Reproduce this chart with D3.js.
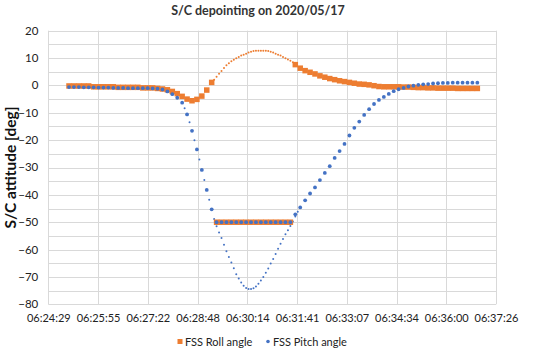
<!DOCTYPE html>
<html><head><meta charset="utf-8">
<script src="https://cdn.jsdelivr.net/npm/d3@7"></script>
<style>body{margin:0;background:#fff}svg{display:block}</style>
</head><body><svg id="c" width="546" height="356"></svg>
<script>
// ---- data ----
const titleText = "S/C depointing on 2020/05/17";
const yTitle = "S/C attitude [deg]";
const seriesNames = ["FSS Roll angle", "FSS Pitch angle"];
const xTickLabels = ["06:24:29","06:25:55","06:27:22","06:28:48","06:30:14","06:31:41","06:33:07","06:34:34","06:36:00","06:37:26"];
const xTickSeconds = [23068.8,23155.2,23241.6,23328.0,23414.4,23500.8,23587.2,23673.6,23760.0,23846.4];
const yTickValues = [20,10,0,-10,-20,-30,-40,-50,-60,-70,-80];
const yGridValues = [20,15,10,5,0,-5,-10,-15,-20,-25,-30,-35,-40,-45,-50,-55,-60,-65,-70,-75,-80];
// measured samples (regular sampling, seconds of day)
const sampleStart = 23104.75, sampleStep = 8.545;
const rollValues = [-0.2,-0.2,-0.2,-0.2,-0.2,-0.5,-0.5,-0.5,-0.5,-0.5,-0.7,-0.7,-0.7,-0.7,-0.7,-0.9,-0.9,-0.9,-1.1,-1.3,
  -1.6,-2.2,-3.0,-4.0,-5.0,-5.6,-5.1,-3.9,-1.7,1.1,
  -50,-50,-50,-50,-50,-50,-50,-50,-50,-50,-50,-50,-50,-50,-50,-50,
  7.6,6.3,5.4,4.8,4.2,3.5,3.0,2.5,2.1,1.7,1.4,1.1,0.8,0.5,0.4,0.2,-0.1,-0.4,-0.5,-0.5,
  -0.5,-0.5,-0.6,-0.6,-0.7,-0.8,-0.8,-0.9,-0.9,-1.0,-1.0,-1.0,-1.0,-1.1,-1.1,-1.1,-1.1,-1.1];
const pitchValues = [-0.6,-0.6,-0.6,-0.7,-0.7,-0.7,-0.8,-0.8,-0.8,-0.9,-0.9,-0.9,-1.0,-1.0,-1.0,-1.0,-1.0,-1.1,-1.2,-1.5,
  -2.2,-3.2,-4.5,-6.3,-10.6,-16.6,-23.4,-30.9,-38.2,-45.3,
  -50,-50,-50,-50,-50,-50,-50,-50,-50,-50,-50,-50,-50,-50,-50,-50,
  -47.1,-44.6,-42.0,-39.5,-37.3,-34.6,-32.0,-29.5,-26.5,-24.0,-21.4,-18.3,-15.5,-13.2,-10.8,-8.7,-6.8,-5.3,-4.2,-3.1,
  -2.1,-1.4,-0.9,-0.4,-0.1,0.2,0.4,0.5,0.7,0.8,0.9,0.9,1.0,1.0,1.0,1.0,1.0,1.0];
// modelled attitude (fine sampling)
const modelStep = 4.2725;
const pitchModelStart = 23301.29;
const pitchModel = [-6.3,-8.3,-10.6,-13.5,-16.6,-20.0,-23.4,-27.1,-30.9,-34.6,-38.2,-41.8,-45.3,-48.8,-51.5,-53.8,-55.8,-58.2,-60.6,-62.7,
  -64.7,-66.8,-69.0,-70.6,-72.0,-73.2,-74.0,-74.4,-74.4,-74.1,-73.5,-72.5,-71.3,-70.0,-68.5,-66.9,-65.1,-63.4,-61.6,-59.7,
  -57.9,-56.1,-54.4,-52.9,-51.4,-49.7,-47.9,-46.2,-44.6];
const rollModelStart = 23352.56;
const rollModel = [1.1,2.1,3.2,4.3,5.3,6.4,7.4,8.1,8.8,9.4,9.9,10.4,10.9,11.2,11.6,12.0,12.3,12.6,12.7,12.7,
  12.7,12.7,12.7,12.6,12.3,12.0,11.6,11.2,10.9,10.4,9.9,9.5,9.0,8.5,7.9];

// ---- chart ----
const orange = "#ED7D31", blue = "#4472C4", gridC = "#D9D9D9", textC = "#222";
const svg = d3.select("#c");
const pL = 48.3, pR = 496, pT = 30.7, pB = 304.3;
const x = d3.scaleLinear().domain([xTickSeconds[0], xTickSeconds[xTickSeconds.length-1]]).range([pL, pR]);
const y = d3.scaleLinear().domain([20, -80]).range([pT, pB]);
const font = "Lato, 'Open Sans', sans-serif";

const g = svg.append("g");
g.selectAll("line.h").data(yGridValues).join("line").attr("class","h")
  .attr("x1", pL).attr("x2", pR).attr("y1", d=>Math.round(y(d))+0.5).attr("y2", d=>Math.round(y(d))+0.5)
  .attr("stroke", gridC).attr("stroke-width", 1);
g.selectAll("line.v").data(xTickSeconds).join("line").attr("class","v")
  .attr("y1", pT).attr("y2", pB).attr("x1", d=>Math.round(x(d))+0.5).attr("x2", d=>Math.round(x(d))+0.5)
  .attr("stroke", gridC).attr("stroke-width", 1);

const yAxis = d3.axisLeft(y).tickValues(yTickValues).tickSize(0).tickPadding(10);
const ya = svg.append("g").attr("transform", `translate(${pL},0)`).call(yAxis);
ya.select(".domain").remove();
ya.selectAll("text").attr("font-family", font).attr("font-size", 11.5).attr("fill", textC).attr("dy", "0.3em");

const xAxis = d3.axisBottom(x).tickValues(xTickSeconds).tickSize(0).tickPadding(10)
  .tickFormat((d,i)=>xTickLabels[i]);
const xa = svg.append("g").attr("transform", `translate(0,${pB})`).call(xAxis);
xa.select(".domain").remove();
xa.selectAll("text").attr("font-family", font).attr("font-size", 11).attr("fill", textC);

const pm = pitchModel.map((v,i)=>({t: pitchModelStart + i*modelStep, v}));
const rm = rollModel.map((v,i)=>({t: rollModelStart + i*modelStep, v}));
svg.append("g").selectAll("circle").data(rm).join("circle")
  .attr("cx", d=>x(d.t)).attr("cy", d=>y(d.v)).attr("r", 1).attr("fill", orange);
svg.append("g").selectAll("circle").data(pm).join("circle")
  .attr("cx", d=>x(d.t)).attr("cy", d=>y(d.v)).attr("r", 1).attr("fill", blue);

const rs = rollValues.map((v,i)=>({t: sampleStart + i*sampleStep, v}));
const ps = pitchValues.map((v,i)=>({t: sampleStart + i*sampleStep, v}));
const sq = 5.5;
svg.append("g").selectAll("rect").data(rs).join("rect")
  .attr("x", d=>x(d.t)-sq/2).attr("y", d=>y(d.v)-sq/2).attr("width", sq).attr("height", sq).attr("fill", orange);
svg.append("g").selectAll("circle").data(ps).join("circle")
  .attr("cx", d=>x(d.t)).attr("cy", d=>y(d.v)).attr("r", 1.9).attr("fill", blue);

svg.append("text").attr("x", 258).attr("y", 15).attr("text-anchor","middle")
  .attr("font-family", font).attr("font-weight","bold").attr("font-size", 12.5).attr("fill", "#333")
  .text(titleText);
svg.append("text").attr("transform", `translate(16,${(pT+pB)/2}) rotate(-90)`).attr("text-anchor","middle")
  .attr("font-family", font).attr("font-weight","bold").attr("font-size", 15.5).attr("fill", "#111")
  .text(yTitle);

const lg = svg.append("g");
lg.append("rect").attr("x", 177.5).attr("y", 339).attr("width", 5).attr("height", 5).attr("fill", orange);
lg.append("text").attr("x", 185).attr("y", 345.5).attr("font-family", font).attr("font-size", 11).attr("fill", textC).text(seriesNames[0]);
lg.append("circle").attr("cx", 268).attr("cy", 341.5).attr("r", 1.8).attr("fill", blue);
lg.append("text").attr("x", 273).attr("y", 345.5).attr("font-family", font).attr("font-size", 11).attr("fill", textC).text(seriesNames[1]);
</script></body></html>
